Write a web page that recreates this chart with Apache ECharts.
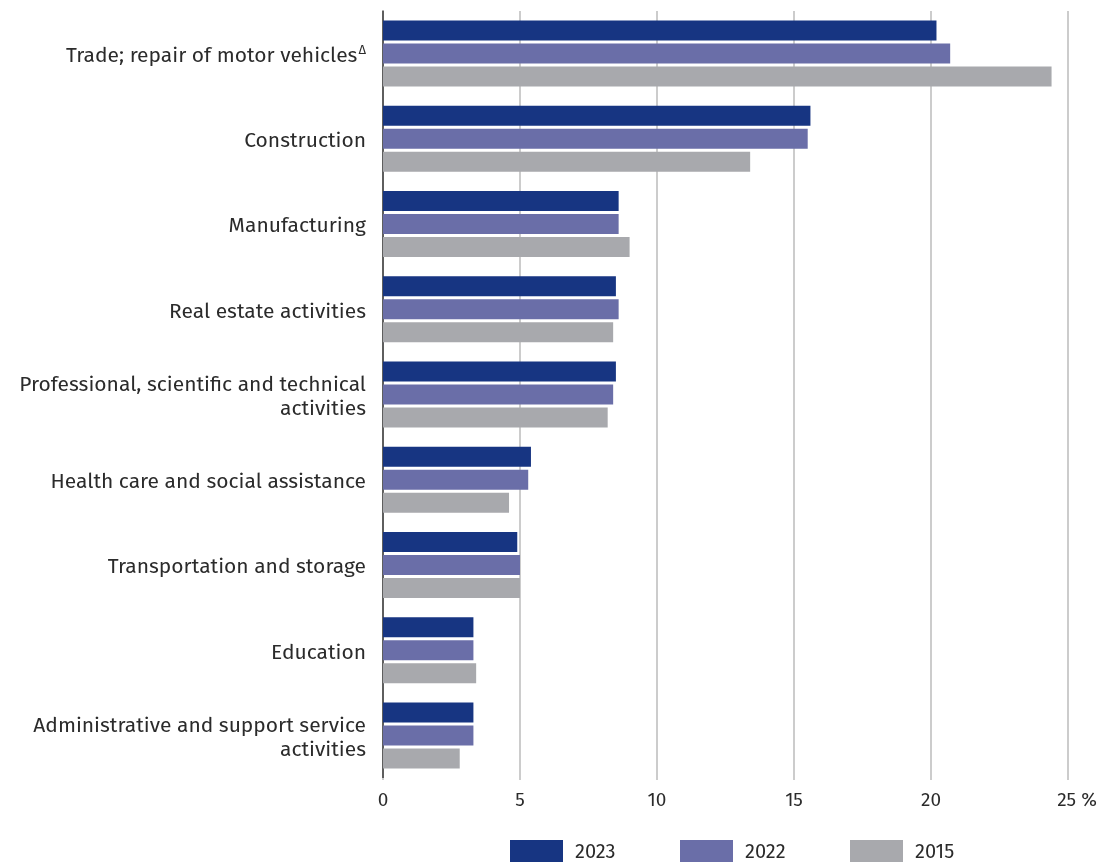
<!DOCTYPE html>
<html>
<head>
<meta charset="utf-8">
<script src="https://cdn.jsdelivr.net/npm/echarts@6/dist/echarts.min.js"></script>
<style>
  html, body { margin: 0; padding: 0; background: #fff; }
  #chart { width: 1103px; height: 862px; }
</style>
</head>
<body>
<div id="chart"></div>
<script>
// Industry categories, top to bottom
const categories = [
  'Trade; repair of motor vehicles',
  'Construction',
  'Manufacturing',
  'Real estate activities',
  'Professional, scientific and technical\nactivities',
  'Health care and social assistance',
  'Transportation and storage',
  'Education',
  'Administrative and support service\nactivities'
];

// Share of enterprises, %
const values2023 = [20.2, 15.6, 8.6, 8.5, 8.5, 5.4, 4.9, 3.3, 3.3];
const values2022 = [20.7, 15.5, 8.6, 8.6, 8.4, 5.3, 5.0, 3.3, 3.3];
const values2015 = [24.4, 13.4, 9.0, 8.4, 8.2, 4.6, 5.0, 3.4, 2.8];

const seriesNames = ['2023', '2022', '2015'];
const xTicks = [0, 5, 10, 15, 20, 25];

const colors = ['#173582', '#6a6ea8', '#a8a9ad'];
const fontFamily = '"Fira Sans", "Noto Sans", sans-serif';
const textColor = '#2b2b2b';

const chart = echarts.init(document.getElementById('chart'), null, { renderer: 'canvas' });

const makeSeries = (name, data, color) => ({
  name: name,
  type: 'bar',
  data: data,
  barWidth: 20,
  barGap: '15%',
  itemStyle: { color: color },
  emphasis: { disabled: true }
});

const legendAt = (name, left) => ({
  data: [name],
  left: left,
  top: 840,
  padding: 0,
  itemWidth: 53,
  itemHeight: 24,
  itemGap: 0,
  icon: 'rect',
  selectedMode: false,
  textStyle: { fontFamily: fontFamily, fontSize: 20, color: textColor, padding: [0, 0, 0, 7] }
});

chart.setOption({
  animation: false,
  backgroundColor: '#ffffff',
  color: colors,
  grid: { left: 383, right: 35, top: 11, bottom: 84, containLabel: false },
  legend: [legendAt('2023', 510), legendAt('2022', 680), legendAt('2015', 850)],
  xAxis: {
    type: 'value',
    min: xTicks[0],
    max: xTicks[xTicks.length - 1],
    interval: 5,
    axisLine: { show: false },
    axisTick: { show: true, length: 2, lineStyle: { color: '#cccccc', width: 2 } },
    splitLine: { show: true, lineStyle: { color: '#cccccc', width: 2 } },
    axisLabel: {
      margin: 13,
      fontFamily: fontFamily,
      fontSize: 19,
      color: textColor,
      formatter: v => (v === 25 ? '{p|25 %}' : String(v)),
      rich: { p: { fontFamily: fontFamily, fontSize: 19, color: textColor, padding: [0, 0, 0, 18] } }
    }
  },
  yAxis: {
    type: 'category',
    inverse: true,
    data: categories,
    axisLine: { show: true, lineStyle: { color: '#3a3a3a', width: 1.5 } },
    axisTick: { show: false },
    axisLabel: {
      margin: 17,
      fontFamily: fontFamily,
      fontSize: 21,
      color: textColor,
      lineHeight: 24,
      align: 'right',
      padding: [5, 0, 0, 0],
      formatter: v => (v.startsWith('Trade') ? v + '{s|\u0394}' : v),
      rich: { s: { fontFamily: fontFamily, fontSize: 13, color: textColor, verticalAlign: 'top', padding: [0, 0, 10, 1] } }
    }
  },
  series: [
    makeSeries(seriesNames[0], values2023, colors[0]),
    makeSeries(seriesNames[1], values2022, colors[1]),
    makeSeries(seriesNames[2], values2015, colors[2])
  ]
});
</script>
</body>
</html>
